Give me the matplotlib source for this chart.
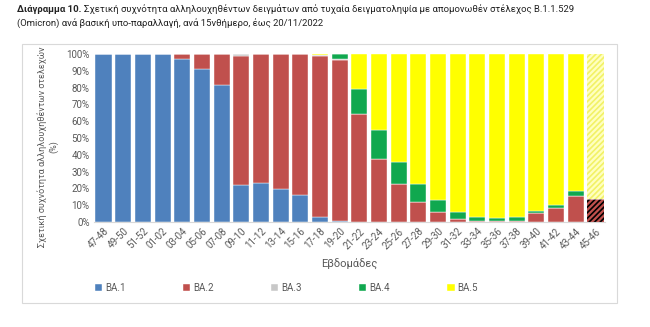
import matplotlib
matplotlib.use("Agg")
import matplotlib.pyplot as plt
from matplotlib.patches import Rectangle
import numpy as np

plt.rcParams['font.family'] = ['Roboto', 'DejaVu Sans']
plt.rcParams['hatch.linewidth'] = 1.2

weeks = ["47-48", "49-50", "51-52", "01-02", "03-04", "05-06", "07-08", "09-10",
         "11-12", "13-14", "15-16", "17-18", "19-20", "21-22", "23-24", "25-26",
         "27-28", "29-30", "31-32", "33-34", "35-36", "37-38", "39-40", "41-42",
         "43-44", "45-46"]

# relative frequency per sub-lineage (%)
ba1 = [100, 100, 100, 100, 97.2, 90.9, 81.3, 22.2, 23.0, 19.4, 16.0, 2.8, 0.5,
       0, 0, 0, 0, 0, 0, 0, 0, 0, 0, 0, 0, 0]
ba2 = [0, 0, 0, 0, 2.8, 9.1, 18.7, 76.5, 77.0, 80.6, 84.0, 96.2, 95.7,
       64.3, 37.3, 22.6, 12.1, 6.2, 1.8, 0.4, 0.4, 0.6, 5.2, 8.5, 15.5, 13.5]
ba3 = [0, 0, 0, 0, 0, 0, 0, 1.3, 0, 0, 0, 0.3, 1.0,
       0, 0, 0, 0, 0, 0, 0, 0, 0, 0, 0, 0, 0]
ba4 = [0, 0, 0, 0, 0, 0, 0, 0, 0, 0, 0, 0, 2.8,
       14.7, 17.5, 13.3, 10.5, 6.9, 4.0, 2.8, 2.2, 2.2, 1.5, 1.4, 3.2, 0]
ba5 = [0, 0, 0, 0, 0, 0, 0, 0, 0, 0, 0, 0.7, 0,
       21.0, 45.2, 64.1, 77.4, 86.9, 94.2, 96.8, 97.4, 97.2, 93.3, 90.1, 81.3, 86.5]

labels = ["BA.1", "BA.2", "BA.3", "BA.4", "BA.5"]
colors = ["#4f81bd", "#c0504d", "#c8c8c8", "#10a84f", "#ffff00"]
series = [ba1, ba2, ba3, ba4, ba5]

grey = "#595959"

fig = plt.figure(figsize=(6.5, 3.27), dpi=100)
ax = fig.add_axes([93.7 / 650, 1 - 222 / 327, (605.3 - 93.7) / 650, 168 / 327])

x = np.arange(len(weeks))
n = len(weeks)
bottom = np.zeros(n)
handles = []
for vals, lab, col in zip(series, labels, colors):
    vals = np.array(vals, dtype=float)
    solid = vals.copy()
    solid[-1] = 0
    b = ax.bar(x, solid, width=0.82, bottom=bottom, color=col, label=lab,
               edgecolor="white", linewidth=0.3)
    handles.append(b)
    # last fortnight is provisional: drawn hatched
    if vals[-1] > 0:
        if lab == "BA.2":
            ax.bar(x[-1], vals[-1], width=0.82, bottom=bottom[-1],
                   color="#c0504d", edgecolor="black", hatch="//////", linewidth=0)
        else:
            ax.bar(x[-1], vals[-1], width=0.82, bottom=bottom[-1],
                   color="#ffffc0", edgecolor="#f2f266", hatch="//////", linewidth=0)
    bottom += vals

ax.set_xlim(-0.5, n - 0.5)
ax.set_ylim(0, 100)
ax.set_yticks(np.arange(0, 101, 10))
ax.set_yticklabels([f"{v}%" for v in range(0, 101, 10)], fontsize=7, color=grey)
ax.set_xticks(x)
ax.set_xticklabels(weeks, rotation=45, ha="right", rotation_mode="anchor",
                   fontsize=7, color=grey)
ax.tick_params(length=0, pad=3)
for s in ["top", "right", "left"]:
    ax.spines[s].set_visible(False)
ax.spines["bottom"].set_color("#d9d9d9")

ax.set_ylabel("Σχετική συχνότητα αλληλουχηθέντων στελεχών\n(%)", fontsize=6.5,
              color=grey)
ax.yaxis.set_label_coords(-0.07, 0.45)
ax.set_xlabel("Εβδομάδες", fontsize=8, color=grey, labelpad=6)

leg = fig.legend(handles=handles, labels=labels, loc="center left",
                 bbox_to_anchor=(86 / 650, 1 - 288 / 327), ncol=5, frameon=False,
                 fontsize=7, handlelength=0.75, handleheight=0.75,
                 handletextpad=0.3, columnspacing=5.9, labelcolor=grey)

# frame around the chart
fig.patches.append(Rectangle((22 / 650, 1 - 303 / 327), (617 - 22) / 650, (303 - 44) / 327,
                             transform=fig.transFigure, fill=False,
                             edgecolor="#d9d9d9", linewidth=0.8))

title_size = 6.8
t1 = fig.text(17 / 650, 1 - 9 / 327, "Διάγραμμα 10.", fontsize=title_size,
              fontweight="bold", va="center", color="#222222")
fig.canvas.draw()
bb = t1.get_window_extent()
fig.text(bb.x1 / 650 + 0.004, 1 - 9 / 327,
         "Σχετική συχνότητα αλληλουχηθέντων δειγμάτων από τυχαία δειγματοληψία με απομονωθέν στέλεχος Β.1.1.529",
         fontsize=title_size, va="center", color="#222222")
fig.text(17 / 650, 1 - 23 / 327,
         "(Omicron) ανά βασική υπο-παραλλαγή, ανά 15νθήμερο, έως 20/11/2022",
         fontsize=title_size, va="center", color="#222222")

fig.savefig("out.png", dpi=100)
